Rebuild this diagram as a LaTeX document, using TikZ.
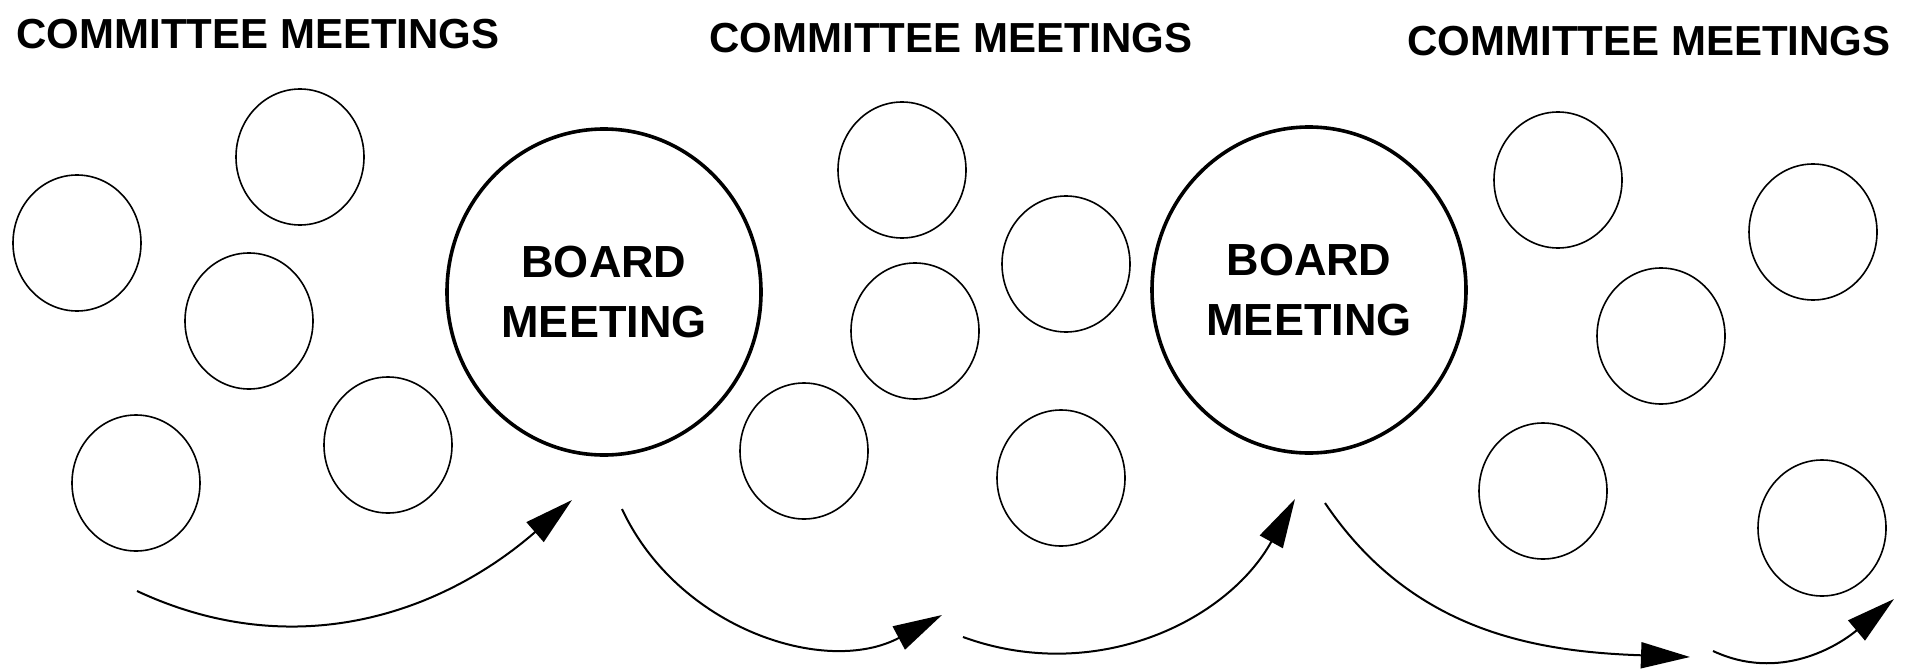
\documentclass[tikz,border=0pt]{standalone}
\usepackage{fontspec}
\setmainfont{Liberation Sans}
\usetikzlibrary{shapes.geometric,arrows.meta}
\begin{document}
\begin{tikzpicture}[x=1pt,y=1pt,
  committee/.style = {draw,ellipse,minimum width=128pt,minimum height=136pt,inner sep=0pt,line width=1.6pt},
  board/.style = {draw,ellipse,minimum width=314pt,minimum height=326pt,inner sep=0pt,line width=3.6pt,align=center,font=\fontsize{45}{60}\selectfont\bfseries},
  title/.style = {font=\fontsize{42}{50}\selectfont\bfseries},
  flow/.style = {line width=2pt,-{Triangle[length=49pt,width=26pt]}}]
\useasboundingbox (0,0) rectangle (1914,-669);
\node[title] (t1) at (258,-34) {COMMITTEE MEETINGS};
\node[title] (t2) at (951,-38) {COMMITTEE MEETINGS};
\node[title] (t3) at (1649,-41) {COMMITTEE MEETINGS};
\node[committee] (1) at (77,-243) {};
\node[committee] (2) at (300,-157) {};
\node[committee] (3) at (249,-321) {};
\node[committee] (4) at (136,-483) {};
\node[committee] (5) at (388,-445) {};
\node[board] (b1) at (604,-292) {BOARD\\MEETING};
\node[committee] (6) at (902,-170) {};
\node[committee] (7) at (915,-331) {};
\node[committee] (8) at (804,-451) {};
\node[committee] (9) at (1066,-264) {};
\node[committee] (10) at (1061,-478) {};
\node[board] (b2) at (1309,-290) {BOARD\\MEETING};
\node[committee] (11) at (1558,-180) {};
\node[committee] (12) at (1813,-232) {};
\node[committee] (13) at (1661,-336) {};
\node[committee] (14) at (1543,-491) {};
\node[committee] (15) at (1822,-528) {};
\coordinate (s1) at (137,-591);
\coordinate (e1) at (572,-500);
\coordinate (s2) at (622,-509);
\coordinate (e2) at (942,-615);
\coordinate (s3) at (963,-637);
\coordinate (e3) at (1295,-499);
\coordinate (s4) at (1325,-503);
\coordinate (e4) at (1690,-657);
\coordinate (s5) at (1713,-651);
\coordinate (e5) at (1894,-599);
\draw[flow] (s1) to[out=-25,in=221] (e1);
\draw[flow] (s2) to[out=-65,in=208] (e2);
\draw[flow] (s3) to[out=-20,in=241] (e3);
\draw[flow] (s4) to[out=-56,in=178] (e4);
\draw[flow] (s5) to[out=-25,in=220] (e5);
\end{tikzpicture}
\end{document}
